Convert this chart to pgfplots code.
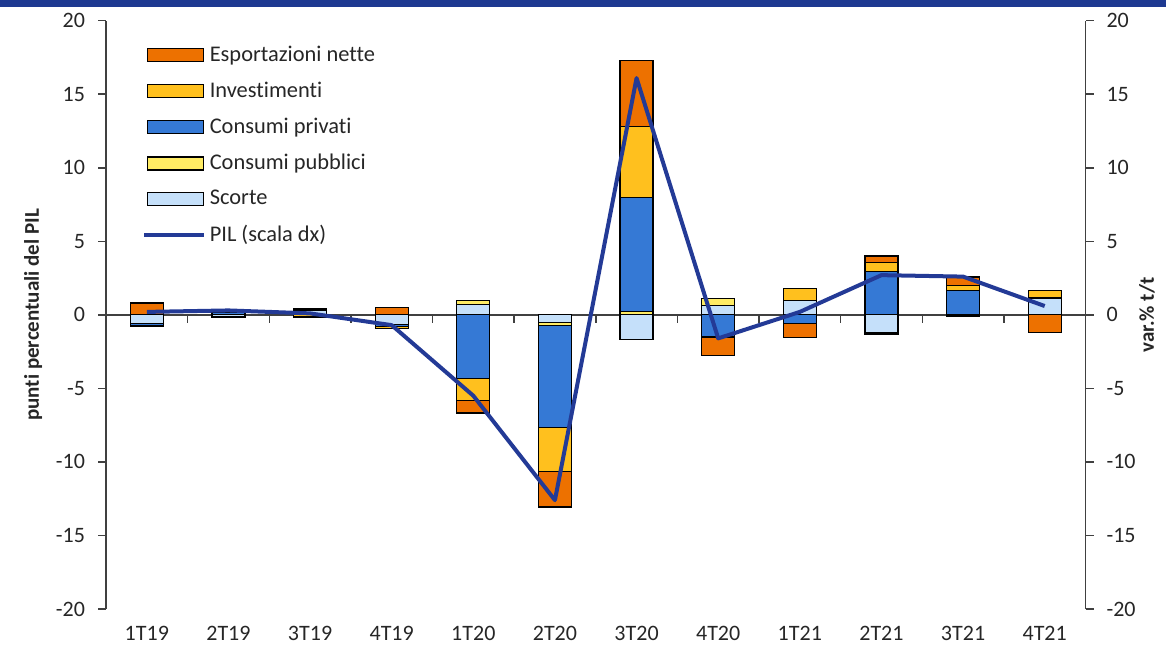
\documentclass[border=0pt]{standalone}
\usepackage{pgfplots}
\pgfplotsset{compat=1.18}
\usepackage{pgfplotstable}
\usepackage{fontspec}
\setmainfont{Carlito}[RawFeature={-liga}]

\definecolor{cExp}{RGB}{237,113,0}
\definecolor{cInv}{RGB}{255,192,30}
\definecolor{cPriv}{RGB}{53,121,213}
\definecolor{cPub}{RGB}{255,236,100}
\definecolor{cSco}{RGB}{197,224,250}
\definecolor{cPIL}{RGB}{35,58,150}
\definecolor{cBand}{RGB}{30,57,145}
\definecolor{cAx}{RGB}{64,64,64}
\definecolor{cTxt}{RGB}{38,38,38}

\pgfplotstableread{
x sco pub priv inv exp pil
0 -0.60 0.05 -0.10 -0.10 0.75 0.2
1 -0.10 0.05 0.10 -0.10 0.00 0.3
2 0.30 0.00 0.10 -0.10 -0.10 0.1
3 -0.65 0.00 -0.15 -0.15 0.50 -0.7
4 0.70 0.27 -4.31 -1.52 -0.84 -5.5
5 -0.50 -0.22 -6.95 -2.97 -2.42 -12.6
6 -1.70 0.22 7.74 4.87 4.48 16.1
7 0.63 0.50 -1.50 0.00 -1.25 -1.6
8 1.00 0.00 -0.57 0.80 -0.95 0.2
9 -1.20 -0.10 2.95 0.60 0.45 2.7
10 -0.05 -0.05 1.65 0.35 0.57 2.6
11 1.10 0.10 0.00 0.45 -1.20 0.6
}\data

\pgfplotsset{
  base/.style={scale only axis, width=489.75pt, height=294.15pt,
    xmin=-0.5, xmax=11.5, ymin=-20, ymax=20,
    at={(53pt,25pt)}, anchor=south west,
    tick label style={font=\fontsize{11}{13}\selectfont, text=cTxt},
    /pgf/number format/assume math mode=true},
  barleg/.style={legend image code/.code={\draw[fill=#1, draw=black, line width=0.6pt] (0pt,-3.25pt) rectangle (28pt,3.25pt);}},
}

\begin{document}
\begin{tikzpicture}
\useasboundingbox (0,0) rectangle (583pt,329.5pt);
\fill[cBand] (0,326pt) rectangle (583pt,329.5pt);

% positive parts + left axis + category labels
\begin{axis}[base, ybar stacked, bar width=16.5pt,
  axis y line*=left, axis x line*=bottom, x axis line style={draw=none},
  xtick={0,...,11},
  xticklabels={1T19,2T19,3T19,4T19,1T20,2T20,3T20,4T20,1T21,2T21,3T21,4T21},
  x tick style={draw=none}, xticklabel style={yshift=-5pt},
  ytick={-20,-15,...,20}, ytick align=outside, major tick length=4pt,
  y axis line style={cAx, line width=0.75pt}, y tick style={cAx, line width=0.75pt},
  yticklabel style={xshift=-3pt},
  ylabel={punti percentuali del PIL},
  ylabel style={font=\bfseries\fontsize{10.5}{12}\selectfont, text=cTxt,
    at={(axis description cs:-0.0745,0.5)}, anchor=center},
  every axis plot/.append style={draw=black, line width=0.6pt},
]
\addplot[fill=cSco] table[x=x, y expr={max(\thisrow{sco},0)}] {\data};
\addplot[fill=cPub] table[x=x, y expr={max(\thisrow{pub},0)}] {\data};
\addplot[fill=cPriv] table[x=x, y expr={max(\thisrow{priv},0)}] {\data};
\addplot[fill=cInv] table[x=x, y expr={max(\thisrow{inv},0)}] {\data};
\addplot[fill=cExp] table[x=x, y expr={max(\thisrow{exp},0)}] {\data};
\end{axis}

% negative parts + zero line
\begin{axis}[base, ybar stacked, bar width=16.5pt,
  axis y line=none, axis x line=middle,
  x axis line style={-, cAx, line width=0.75pt},
  xtick={0.5,1.5,...,10.5}, xticklabels={},
  xtick align=center, major tick length=4pt,
  x tick style={cAx, line width=0.75pt, yshift=-2pt},
  every axis plot/.append style={draw=black, line width=0.6pt},
]
\addplot[fill=cSco] table[x=x, y expr={min(\thisrow{sco},0)}] {\data};
\addplot[fill=cPub] table[x=x, y expr={min(\thisrow{pub},0)}] {\data};
\addplot[fill=cPriv] table[x=x, y expr={min(\thisrow{priv},0)}] {\data};
\addplot[fill=cInv] table[x=x, y expr={min(\thisrow{inv},0)}] {\data};
\addplot[fill=cExp] table[x=x, y expr={min(\thisrow{exp},0)}] {\data};
\end{axis}

% GDP line + right axis + legend
\begin{axis}[base, axis y line*=right, axis x line=none,
  ytick={-20,-15,...,20}, ytick align=outside, major tick length=4pt,
  y axis line style={cAx, line width=0.75pt}, y tick style={cAx, line width=0.75pt},
  yticklabel style={xshift=3pt},
  ylabel={var.\% t/t},
  ylabel style={font=\bfseries\fontsize{10.5}{12}\selectfont, text=cTxt,
    at={(axis description cs:1.0628,0.5)}, anchor=center, rotate=0},
  legend style={at={(axis description cs:0,1)}, anchor=north west,
    xshift=15pt, yshift=-8.5pt, draw=none, fill=none,
    font=\fontsize{11.2}{13}\selectfont, text=cTxt, row sep=4.8pt,
    nodes={inner xsep=2pt}},
  legend cell align=left,
]
\addlegendimage{barleg=cExp}
\addlegendimage{barleg=cInv}
\addlegendimage{barleg=cPriv}
\addlegendimage{barleg=cPub}
\addlegendimage{barleg=cSco}
\addplot[cPIL, line width=2pt, line join=round, mark=none,
  legend image code/.code={\draw[cPIL, line width=1.7pt] (-1.5pt,0pt) -- (28.5pt,0pt);}]
  table[x=x, y=pil] {\data};
\legend{Esportazioni nette, Investimenti, Consumi privati, Consumi pubblici, Scorte, PIL (scala dx)}
\end{axis}
\end{tikzpicture}
\end{document}
